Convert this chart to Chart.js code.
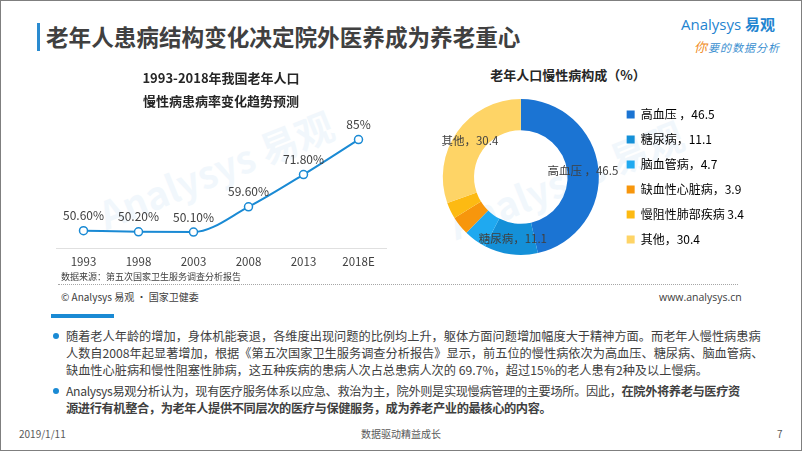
<!DOCTYPE html>
<html>
<head>
<meta charset="utf-8">
<script src="https://cdn.jsdelivr.net/npm/chart.js@4/dist/chart.umd.min.js"></script>
<style>
  body { margin:0; background:#fff; font-family:"Noto Sans CJK SC","Noto Sans",sans-serif; color:#404040; }
  #slide { position:relative; width:800px; height:449px; border:1px solid #7f7f7f; overflow:hidden; background:#fff; }
  .abs { position:absolute; white-space:nowrap; }
  #titlebar { left:36px; top:22px; width:3px; height:28px; background:#2a8bd0; }
  #title { left:45px; top:20px; font-size:22.6px; font-weight:bold; color:#404040; line-height:32px; }
  #logo1 { left:680px; top:12px; font-size:15px; color:#1f84d0; font-family:"Open Sans",sans-serif; }
  #logo1 b { font-family:"Noto Sans CJK SC"; }
  #logo2 { left:693px; top:36px; font-size:11px; color:#3a8fd0; font-style:italic; letter-spacing:1px; }
  #logo2 span { color:#f08a24; font-size:13px; }
  #lineWrap { left:40px; top:62px; width:355px; height:213px; }
  #pieWrap { left:427px; top:76px; width:326px; height:200px; }
  #pieTitle { left:400px; top:64px; width:334px; text-align:center; font-size:13px; font-weight:bold; color:#262626; }
  #source { left:60px; top:269px; font-size:9px; color:#404040; }
  #dots { left:57px; top:283px; width:680px; border-top:1px dotted #a6a6a6; }
  #copy { left:60px; top:288px; font-size:10px; color:#404040; }
  #site { left:658px; top:289px; font-size:10.5px; color:#404040; font-family:"Open Sans",sans-serif; }
  #bluebar { left:50px; top:313px; width:63px; height:4px; background:#1a8ad4; }
  .bullet { position:absolute; left:52px; width:6px; height:6px; border-radius:50%; background:#1a8ad4; }
  .para { position:absolute; left:65px; font-size:12.2px; line-height:17px; color:#404040; white-space:nowrap; }
  .foot { position:absolute; top:425px; font-size:10px; color:#595959; }
  .wm { position:absolute; color:#2a8bd0; opacity:0.06; font-size:38px; font-weight:bold; transform:rotate(-22deg); white-space:nowrap; }
</style>
</head>
<body>
<div id="slide">
  <div class="abs" id="titlebar"></div>
  <div class="abs" id="title">老年人患病结构变化决定院外医养成为养老重心</div>
  <div class="abs" id="logo1">Analysys <b>易观</b></div>
  <div class="abs" id="logo2"><span>你</span>要的数据分析</div>

  <div class="wm" style="left:90px;top:140px;">Analysys 易观</div>
  <div class="wm" style="left:440px;top:150px;">Analysys 易观</div>

  <div class="abs" id="lineWrap"><canvas id="lineChart"></canvas></div>
  <div class="abs" id="pieTitle">老年人口慢性病构成（%）</div>
  <div class="abs" id="pieWrap"><canvas id="pieChart"></canvas></div>

  <div class="abs" id="source">数据来源：第五次国家卫生服务调查分析报告</div>
  <div class="abs" id="dots"></div>
  <div class="abs" id="copy">© Analysys 易观 · 国家卫健委</div>
  <div class="abs" id="site">www.analysys.cn</div>

  <div class="abs" id="bluebar"></div>
  <div class="bullet" style="top:332px;"></div>
  <div class="bullet" style="top:387px;"></div>
  <div class="para" style="top:327px;">随着老人年龄的增加，身体机能衰退，各维度出现问题的比例均上升，躯体方面问题增加幅度大于精神方面。而老年人慢性病患病<br>人数自2008年起显著增加，根据《第五次国家卫生服务调查分析报告》显示，前五位的慢性病依次为高血压、糖尿病、脑血管病、<br>缺血性心脏病和慢性阻塞性肺病，这五种疾病的患病人次占总患病人次的 69.7%，超过15%的老人患有2种及以上慢病。</div>
  <div class="para" style="top:382px;letter-spacing:-0.35px;">Analysys易观分析认为，现有医疗服务体系以应急、救治为主，院外则是实现慢病管理的主要场所。因此，<b>在院外将养老与医疗资</b><br><b>源进行有机整合，为老年人提供不同层次的医疗与保健服务，成为养老产业的最核心的内容。</b></div>

  <div class="foot" style="left:18px;">2019/1/11</div>
  <div class="foot" style="left:360px;">数据驱动精益成长</div>
  <div class="foot" style="left:776px;">7</div>
</div>

<script>
// line chart data
var years = ['1993', '1998', '2003', '2008', '2013', '2018E'];
var rates = [50.6, 50.2, 50.1, 59.6, 71.8, 85];
var rateLabels = ['50.60%', '50.20%', '50.10%', '59.60%', '71.80%', '85%'];

// donut data
var diseases = ['高血压 ', '糖尿病', '脑血管病', '缺血性心脏病', '慢阻性肺部疾病', '其他'];
var shares = [46.5, 11.1, 4.7, 3.9, 3.4, 30.4];
var seps = ['，', '，', '，', '，', ' ', '，'];
var sliceColors = ['#1b74d3', '#1490d8', '#1fa9f0', '#f7960c', '#fdba12', '#fed466'];
var showOnArc = [0, 1, 5];

var cjk = '"Noto Sans CJK SC", "Noto Sans", sans-serif';

function pieText(i) {
  return diseases[i] + seps[i] + shares[i];
}

var pointLabelPlugin = {
  id: 'pointLabels',
  afterDatasetsDraw: function(chart) {
    var ctx = chart.ctx;
    var meta = chart.getDatasetMeta(0);
    ctx.save();
    ctx.font = '12px ' + cjk;
    ctx.fillStyle = '#404040';
    ctx.textAlign = 'center';
    ctx.textBaseline = 'middle';
    meta.data.forEach(function(pt, i) {
      ctx.fillText(rateLabels[i], pt.x, pt.y - 15);
    });
    ctx.restore();
  }
};

new Chart(document.getElementById('lineChart'), {
  type: 'line',
  data: {
    labels: years,
    datasets: [{
      data: rates,
      borderColor: '#1a8ad4',
      borderWidth: 2,
      cubicInterpolationMode: 'monotone',
      pointRadius: 4,
      pointBackgroundColor: '#ffffff',
      pointBorderColor: '#1a8ad4',
      pointBorderWidth: 1.5
    }]
  },
  options: {
    responsive: true,
    maintainAspectRatio: false,
    animation: false,
    layout: { padding: { left: 15, right: 10 } },
    plugins: {
      legend: { display: false },
      tooltip: { enabled: false },
      title: {
        display: true,
        text: ['1993-2018年我国老年人口', '慢性病患病率变化趋势预测'],
        color: '#262626',
        font: { size: 13, weight: 'bold', family: cjk, lineHeight: '23px' },
        padding: { top: 4, bottom: 8 }
      }
    },
    scales: {
      x: {
        offset: true,
        grid: { display: false, drawTicks: false },
        border: { display: true, color: '#e0e0e0' },
        ticks: { color: '#404040', padding: 7, font: { size: 11.5, family: cjk } }
      },
      y: { display: false, min: 44, max: 92 }
    }
  },
  plugins: [pointLabelPlugin]
});

var arcLabelPlugin = {
  id: 'arcLabels',
  afterDatasetsDraw: function(chart) {
    var ctx = chart.ctx;
    var meta = chart.getDatasetMeta(0);
    ctx.save();
    ctx.font = '11.5px ' + cjk;
    ctx.fillStyle = '#404040';
    ctx.textAlign = 'center';
    ctx.textBaseline = 'middle';
    showOnArc.forEach(function(i) {
      var p = meta.data[i].tooltipPosition();
      ctx.fillText(pieText(i), p.x, p.y);
    });
    ctx.restore();
  }
};

new Chart(document.getElementById('pieChart'), {
  type: 'doughnut',
  data: {
    labels: diseases,
    datasets: [{
      data: shares,
      backgroundColor: sliceColors,
      borderWidth: 0
    }]
  },
  options: {
    responsive: true,
    maintainAspectRatio: false,
    animation: false,
    cutout: '60%',
    radius: 78,
    plugins: {
      tooltip: { enabled: false },
      legend: {
        position: 'right',
        labels: {
          boxWidth: 8,
          boxHeight: 8,
          padding: 13,
          color: '#404040',
          font: { size: 12, family: cjk },
          generateLabels: function(chart) {
            return diseases.map(function(d, i) {
              return { text: pieText(i), fillStyle: sliceColors[i], strokeStyle: sliceColors[i], lineWidth: 0, index: i };
            });
          }
        }
      }
    }
  },
  plugins: [arcLabelPlugin]
});
</script>
</body>
</html>
